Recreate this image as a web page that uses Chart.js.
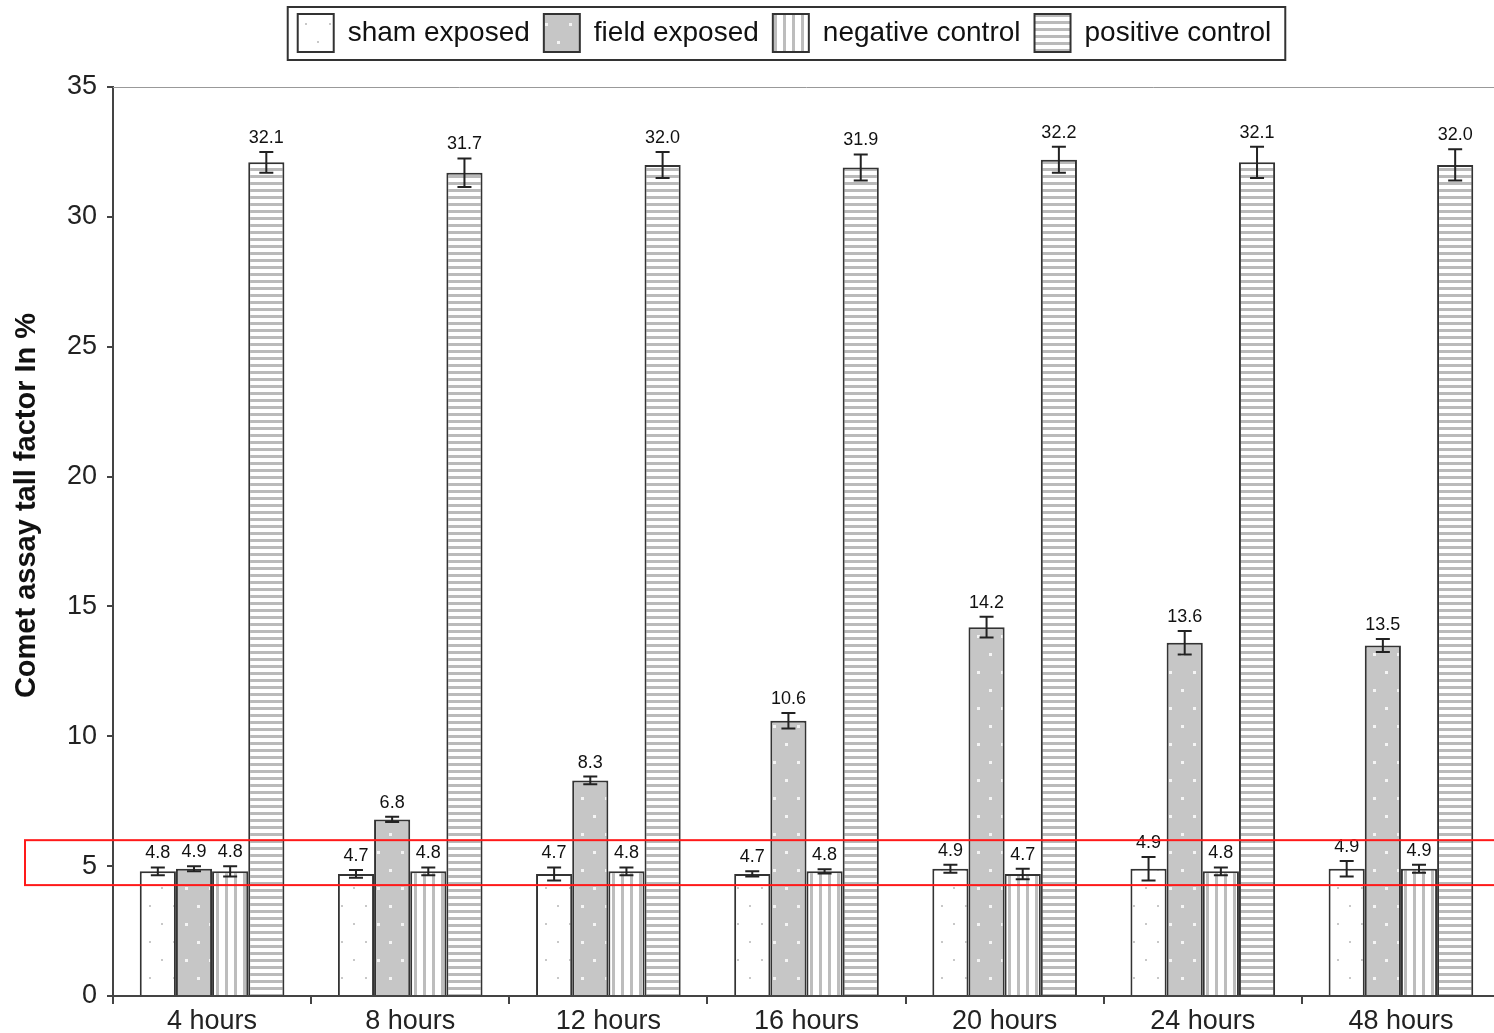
<!DOCTYPE html>
<html>
<head>
<meta charset="utf-8">
<script src="https://cdn.jsdelivr.net/npm/chart.js@4.4.1/dist/chart.umd.min.js"></script>
<style>
  body { margin: 0; background: #fff; overflow: hidden; }
  #wrap { width: 1500px; height: 1033px; }
</style>
</head>
<body>
<div id="wrap"><canvas id="chart"></canvas></div>
<script>
const hours = ['4 hours', '8 hours', '12 hours', '16 hours', '20 hours', '24 hours', '48 hours'];

const shamValues = [4.8, 4.7, 4.7, 4.7, 4.9, 4.9, 4.9];
const shamErrors = [0.15, 0.15, 0.25, 0.1, 0.15, 0.45, 0.3];
const fieldValues = [4.9, 6.8, 8.3, 10.6, 14.2, 13.6, 13.5];
const fieldErrors = [0.1, 0.1, 0.15, 0.3, 0.4, 0.45, 0.25];
const negValues = [4.8, 4.8, 4.8, 4.8, 4.7, 4.8, 4.9];
const negErrors = [0.2, 0.15, 0.15, 0.08, 0.2, 0.15, 0.15];
const posValues = [32.1, 31.7, 32.0, 31.9, 32.2, 32.1, 32.0];
const posErrors = [0.4, 0.55, 0.5, 0.5, 0.5, 0.6, 0.6];

const yTitle = 'Comet assay tall factor In %';

// highlighted band (in axis units)
const bandLow = 4.27;
const bandHigh = 6.0;

const FONT = '"Liberation Sans", Arial, sans-serif';

function makePattern(w, h, paint) {
  const c = document.createElement('canvas');
  c.width = w; c.height = h;
  const g = c.getContext('2d');
  paint(g, w, h);
  return g.createPattern(c, 'repeat');
}

const ctx = document.getElementById('chart').getContext('2d');

const shamFill = makePattern(24, 36, (g, w, h) => {
  g.fillStyle = '#fff'; g.fillRect(0, 0, w, h);
  g.fillStyle = '#c8c8c8';
  g.fillRect(5, 5, 2, 2); g.fillRect(17, 23, 2, 2);
});
const fieldFill = makePattern(24, 36, (g, w, h) => {
  g.fillStyle = '#c6c6c6'; g.fillRect(0, 0, w, h);
  g.fillStyle = '#f4f4f4';
  g.fillRect(5, 5, 3, 3); g.fillRect(17, 23, 3, 3);
});
const negFill = makePattern(9, 10, (g, w, h) => {
  g.fillStyle = '#fff'; g.fillRect(0, 0, w, h);
  g.fillStyle = '#bdbdbd'; g.fillRect(0, 0, 3, h);
});
const posFill = makePattern(10, 7, (g, w, h) => {
  g.fillStyle = '#fff'; g.fillRect(0, 0, w, h);
  g.fillStyle = '#bababa'; g.fillRect(0, 0, w, 3);
});

const errorBars = {
  id: 'errorBars',
  afterDatasetsDraw(chart) {
    const c = chart.ctx;
    const y = chart.scales.y;
    c.save();
    c.strokeStyle = '#222';
    c.lineWidth = 2;
    c.fillStyle = '#111';
    c.font = '18px ' + FONT;
    c.textAlign = 'center';
    c.textBaseline = 'bottom';
    chart.data.datasets.forEach((ds, i) => {
      chart.getDatasetMeta(i).data.forEach((bar, j) => {
        const v = ds.data[j], e = ds.errors[j];
        const yt = y.getPixelForValue(v + e), yb = y.getPixelForValue(v - e);
        c.beginPath();
        c.moveTo(bar.x, yt); c.lineTo(bar.x, yb);
        c.moveTo(bar.x - 7, yt); c.lineTo(bar.x + 7, yt);
        c.moveTo(bar.x - 7, yb); c.lineTo(bar.x + 7, yb);
        c.stroke();
        c.fillText(v.toFixed(1), bar.x, yt - 5);
      });
    });
    c.restore();
  }
};

// nudge the legend a little left of the plot centre, as in the original
const legendShift = {
  id: 'legendShift',
  afterLayout(chart) {
    const lg = chart.legend;
    lg.left -= 22; lg.right -= 22;
  }
};

const frame = {
  id: 'frame',
  afterDraw(chart) {
    const c = chart.ctx;
    const a = chart.chartArea;
    const y = chart.scales.y;
    const lg = chart.legend;
    c.save();
    // top border of plot
    c.strokeStyle = '#999';
    c.lineWidth = 1;
    c.beginPath();
    c.moveTo(a.left, a.top + 0.5); c.lineTo(a.right, a.top + 0.5);
    c.stroke();
    // legend frame around the row of items
    const pad = lg.options.labels.padding;
    const rowW = lg.lineWidths[0];
    const rowLeft = (lg.left + pad + lg.right - rowW) / 2;
    c.strokeStyle = '#333';
    c.lineWidth = 2;
    c.strokeRect(rowLeft - 10, lg.top + pad - 7, rowW - pad + 24, lg.options.labels.boxHeight + 15);
    // y axis title
    c.fillStyle = '#111';
    c.font = 'bold 29px ' + FONT;
    c.textAlign = 'center';
    c.textBaseline = 'middle';
    c.translate(27, (a.top + a.bottom) / 2 - 36);
    c.rotate(-Math.PI / 2);
    c.fillText(yTitle, 0, 0);
    c.restore();
    // red highlight band
    c.save();
    c.strokeStyle = '#ff1a1a';
    c.lineWidth = 2;
    const t = y.getPixelForValue(bandHigh), b = y.getPixelForValue(bandLow);
    c.strokeRect(25, t, chart.width, b - t);
    c.restore();
  }
};

new Chart(ctx, {
  type: 'bar',
  data: {
    labels: hours,
    datasets: [
      { label: 'sham exposed', data: shamValues, errors: shamErrors, backgroundColor: shamFill },
      { label: 'field exposed', data: fieldValues, errors: fieldErrors, backgroundColor: fieldFill },
      { label: 'negative control', data: negValues, errors: negErrors, backgroundColor: negFill },
      { label: 'positive control', data: posValues, errors: posErrors, backgroundColor: posFill },
    ],
  },
  options: {
    responsive: true,
    maintainAspectRatio: false,
    animation: false,
    layout: { padding: 0 },
    datasets: {
      bar: {
        borderColor: '#333',
        borderWidth: 2,
        categoryPercentage: 0.73,
        barPercentage: 1,
      },
    },
    plugins: {
      tooltip: { enabled: false },
      legend: {
        position: 'top',
        fullSize: false,
        labels: {
          color: '#111',
          boxWidth: 36,
          boxHeight: 38,
          padding: 14,
          font: { size: 28, family: FONT },
        },
      },
      // empty spacer between legend and plot
      subtitle: {
        display: true,
        text: ' ',
        weight: 500,
        padding: { top: 13, bottom: 0 },
        font: { size: 10 },
      },
    },
    scales: {
      x: {
        grid: { drawOnChartArea: false, color: '#444', tickLength: 8, lineWidth: 2 },
        border: { color: '#444', width: 2 },
        ticks: {
          color: '#222',
          padding: 1,
          font: { size: 27, family: FONT },
        },
        afterFit(scale) { scale.height = 37; },
      },
      y: {
        min: 0,
        max: 35,
        ticks: {
          stepSize: 5,
          color: '#222',
          padding: 10,
          font: { size: 27, family: FONT },
        },
        grid: { drawOnChartArea: false, color: '#444', tickLength: 6, lineWidth: 2 },
        border: { color: '#444', width: 2 },
        afterFit(scale) { scale.width = 113; },
      },
    },
  },
  plugins: [errorBars, legendShift, frame],
});
</script>
</body>
</html>
